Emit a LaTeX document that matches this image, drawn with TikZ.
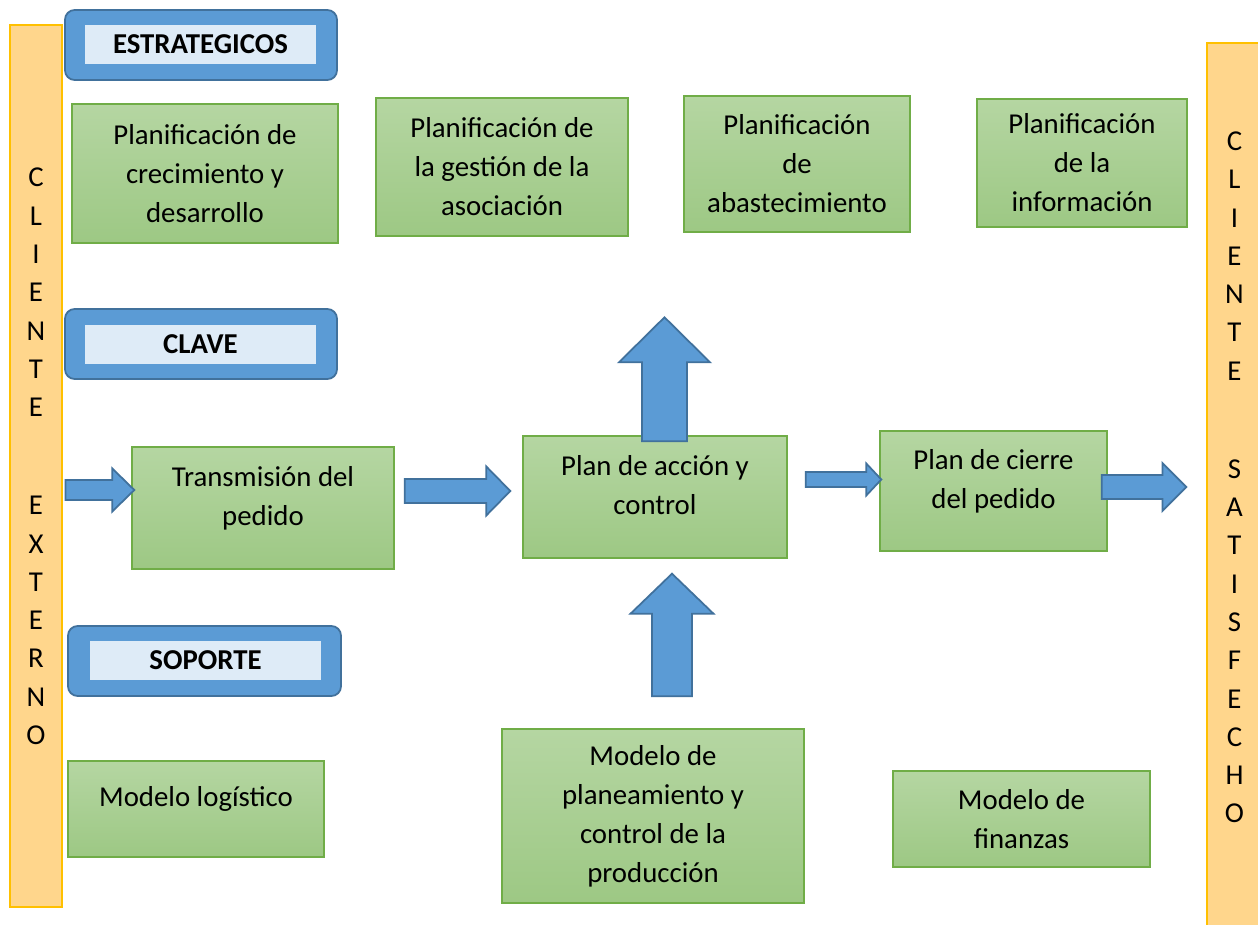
\documentclass[tikz,border=0pt]{standalone}
\usepackage{fontspec}
\setmainfont{Carlito}
\usetikzlibrary{calc}
\definecolor{gtop}{HTML}{B5D6A2}
\definecolor{gbot}{HTML}{9DC884}
\definecolor{gline}{HTML}{70AD47}
\definecolor{hblue}{HTML}{5B9BD5}
\definecolor{hline}{HTML}{41719C}
\definecolor{hpale}{HTML}{DEEBF7}
\definecolor{bfill}{HTML}{FFD68C}
\definecolor{bline}{HTML}{FFC000}
\tikzset{%
    area/.style n args={4}{at={({(#1+#3)/2},{(#2+#4)/2})}, minimum width={(#3-#1)*0.02cm}, minimum height={(#4-#2)*0.02cm}},
    txt/.style={font=\fontsize{16.4}{22.2}\selectfont, align=center, inner sep=0pt},
    gbox/.style={txt, draw=gline, line width=0.8pt, top color=gtop, bottom color=gbot},
    lifted/.style={text depth=14pt},
    hdr/.style={draw=hline, fill=hblue, line width=1pt, rounded corners=5.5pt, inner sep=0pt},
    hdrin/.style={txt, fill=hpale, font=\fontsize{16.4}{22.2}\selectfont\bfseries},
    bar/.style={txt, draw=bline, fill=bfill, line width=0.6pt, font=\fontsize{16.4}{21.8}\selectfont, text depth=11pt},
    barr/.style={draw=hline, fill=hblue, line width=1pt, line join=miter},
}
% block arrows: from, to, half shaft, half head, head length
\newcommand\blockright[5]{%
    \draw[barr] ($(#1)+(0,-#3)$) -- ($(#2)+(-#5,-#3)$) -- ($(#2)+(-#5,-#4)$) -- (#2)
        -- ($(#2)+(-#5,#4)$) -- ($(#2)+(-#5,#3)$) -- ($(#1)+(0,#3)$) -- cycle;}
\newcommand\blockup[5]{%
    \draw[barr] ($(#1)+(-#3,0)$) -- ($(#2)+(-#3,#5)$) -- ($(#2)+(-#4,#5)$) -- (#2)
        -- ($(#2)+(#4,#5)$) -- ($(#2)+(#3,#5)$) -- ($(#1)+(#3,0)$) -- cycle;}
\begin{document}
\begin{tikzpicture}[x=0.02cm, y=-0.02cm]
    \clip (0,0) rectangle (1258,925);
    \fill[white] (0,0) rectangle (1258,925);
    % clientes
    \node[bar, area={10}{25}{62}{907}] (cext) {C\\L\\I\\E\\N\\T\\E\\[34pt]E\\X\\T\\E\\R\\N\\O};
    \node[bar, area={1207}{43}{1262}{931}] (csat) {C\\L\\I\\E\\N\\T\\E\\[34pt]S\\A\\T\\I\\S\\F\\E\\C\\H\\O};
    % titulos
    \node[hdr, area={65}{10}{337}{80}] (estr) {};
    \node[hdrin, area={85}{25}{316}{64}] (estrt) {ESTRATEGICOS};
    \node[hdr, area={65}{309}{337}{379}] (clave) {};
    \node[hdrin, area={85}{325}{316}{364}] (clavet) {CLAVE};
    \node[hdr, area={68}{626}{341}{696}] (sop) {};
    \node[hdrin, area={90}{641}{321}{680}] (sopt) {SOPORTE};
    % procesos estrategicos
    \node[gbox, area={72}{104}{338}{243}] (crec) {Planificación de\\crecimiento y\\desarrollo};
    \node[gbox, area={376}{98}{628}{236}] (gest) {Planificación de\\la gestión de la\\asociación};
    \node[gbox, area={684}{96}{910}{232}] (abas) {Planificación\\de\\abastecimiento};
    \node[gbox, area={977}{99}{1187}{227}] (info) {Planificación\\de la\\información};
    % procesos clave
    \node[gbox, lifted, area={132}{447}{394}{569}] (trans) {Transmisión del\\pedido};
    \node[gbox, lifted, area={523}{436}{787}{558}] (plan) {Plan de acción y\\control};
    \node[gbox, lifted, area={880}{431}{1107}{551}] (cierre) {Plan de cierre\\del pedido};
    % procesos de soporte
    \node[gbox, lifted, area={68}{761}{324}{857}] (logis) {Modelo logístico};
    \node[gbox, area={502}{729}{804}{903}] (prod) {Modelo de\\planeamiento y\\control de la\\producción};
    \node[gbox, area={893}{771}{1150}{867}] (fin) {Modelo de\\finanzas};
    % flechas
    \coordinate (up) at ($(plan.north)+(9.5,-118)$);
    \blockright{$(cext.east)+(3,24)$}{$(trans.west)+(3,-18)$}{10}{21.5}{22}
    \blockright{$(trans.east)+(10,-17)$}{$(plan.west)+(-12,-6)$}{12}{24.5}{24}
    \blockright{$(plan.east)+(18,-17.5)$}{$(cierre.west)+(2,-11.5)$}{7.5}{16}{15}
    \blockright{$(cierre.east)+(-6,-4)$}{$(csat.west)+(-20,0)$}{12}{24}{24}
    \blockup{$(plan.north)+(9.5,6)$}{up}{22.5}{45.5}{45}
    \blockup{$(prod.north)+(19,-32)$}{$(plan.south)+(17,15)$}{20}{41.5}{40}
\end{tikzpicture}
\end{document}
